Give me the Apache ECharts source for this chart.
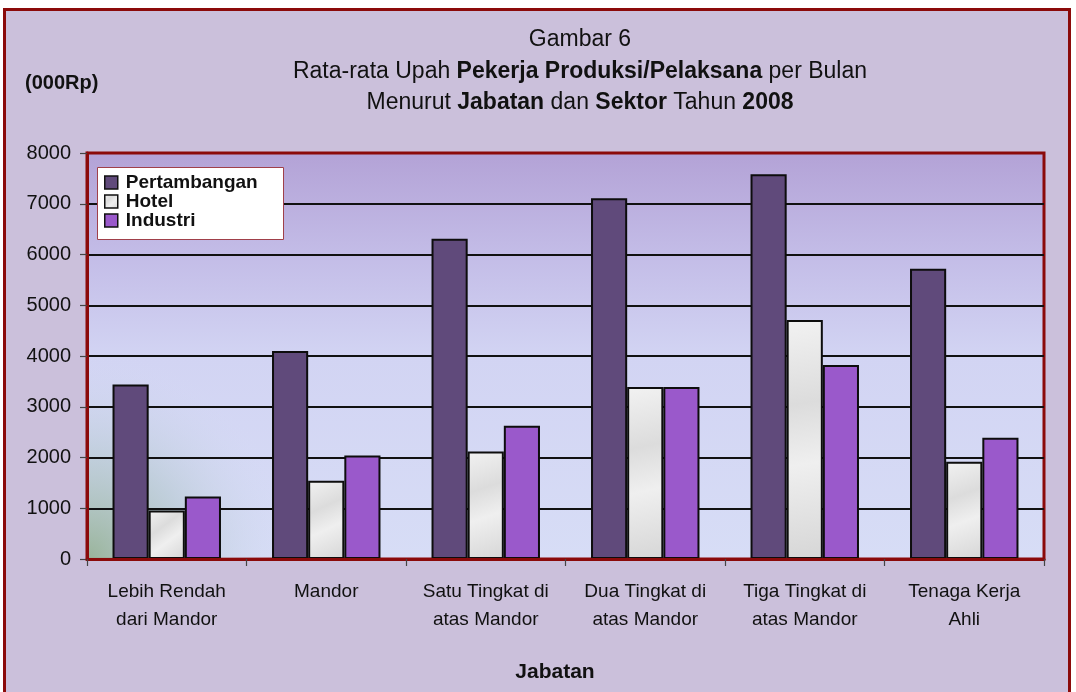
<!DOCTYPE html>
<html>
<head>
<meta charset="utf-8">
<script src="https://cdn.jsdelivr.net/npm/echarts@6/dist/echarts.min.js"></script>
<style>
  html, body { margin: 0; padding: 0; background: #ffffff; }
  #frame { position: absolute; left: 3px; top: 8px; width: 1068px; height: 700px;
           border: 3px solid #8B0A0A; background: #CBC0DB; box-sizing: border-box; }
  #chart { position: absolute; left: 0; top: 0; width: 1076px; height: 692px; }
</style>
</head>
<body>
<div id="frame"></div>
<div id="chart"></div>
<script>
const categories = ['Lebih Rendah\ndari Mandor', 'Mandor', 'Satu Tingkat di\natas Mandor', 'Dua Tingkat di\natas Mandor', 'Tiga Tingkat di\natas Mandor', 'Tenaga Kerja\nAhli'];
const seriesNames = ['Pertambangan', 'Hotel', 'Industri'];
const pertambangan = [3440, 4100, 6310, 7110, 7580, 5720];
const hotel = [955, 1540, 2120, 3390, 4710, 1915];
const industri = [1230, 2040, 2625, 3390, 3825, 2390];
const yMin = 0, yMax = 8000, yStep = 1000;
const titleLines = ['Gambar 6', 'Rata-rata Upah ', 'Pekerja Produksi/Pelaksana', ' per Bulan', 'Menurut ', 'Jabatan', ' dan ', 'Sektor', ' Tahun ', '2008'];
const yUnit = '(000Rp)';
const xName = 'Jabatan';

const FONT = '"Liberation Sans", Arial, sans-serif';
const chart = echarts.init(document.getElementById('chart'), null, { renderer: 'canvas' });

const GL = 87, GT = 153, GW = 957, GH = 406;

const titleText = titleLines[0] + '\n' +
  '{n|' + titleLines[1] + '}{b|' + titleLines[2] + '}{n|' + titleLines[3] + '}\n' +
  '{n|' + titleLines[4] + '}{b|' + titleLines[5] + '}{n|' + titleLines[6] + '}{b|' + titleLines[7] + '}{n|' + titleLines[8] + '}{b|' + titleLines[9] + '}';

const barBorder = { borderColor: '#0d0d0d', borderWidth: 2 };

chart.setOption({
  backgroundColor: 'transparent',
  animation: false,
  textStyle: { fontFamily: FONT },
  title: [
    {
      text: titleText,
      left: 575, top: 19, textAlign: 'center',
      textStyle: {
        fontFamily: FONT, fontSize: 23, fontWeight: 'normal', color: '#111', lineHeight: 31.5,
        rich: {
          n: { fontFamily: FONT, fontSize: 23, fontWeight: 'normal', color: '#111', lineHeight: 31.5 },
          b: { fontFamily: FONT, fontSize: 23, fontWeight: 'bold', color: '#111', lineHeight: 31.5 }
        }
      }
    },
    {
      text: yUnit, left: 20, top: 68,
      textStyle: { fontFamily: FONT, fontSize: 20, fontWeight: 'bold', color: '#111' }
    },
    {
      text: xName, left: 550, top: 657, textAlign: 'center',
      textStyle: { fontFamily: FONT, fontSize: 21, fontWeight: 'bold', color: '#111' }
    }
  ],
  grid: {
    left: GL, top: GT, width: GW, height: GH,
    show: true,
    borderColor: '#8B0A0A', borderWidth: 3,
    backgroundColor: {
      type: 'linear', x: 0, y: 0, x2: 0, y2: 1,
      colorStops: [
        { offset: 0, color: '#B3A2D6' },
        { offset: 0.25, color: '#C3BCE7' },
        { offset: 0.5, color: '#D2D4F3' },
        { offset: 1, color: '#D7DDF6' }
      ]
    }
  },
  graphic: [
    {
      type: 'rect', z: 1, silent: true,
      shape: { x: GL + 1, y: GT + GH * 0.4, width: GW * 0.45, height: GH * 0.6 - 1 },
      style: {
        fill: {
          type: 'radial', x: 0, y: 1, r: 0.85,
          colorStops: [
            { offset: 0, color: 'rgba(150,178,150,0.95)' },
            { offset: 0.5, color: 'rgba(180,200,205,0.6)' },
            { offset: 1, color: 'rgba(214,220,246,0)' }
          ]
        }
      }
    },
    {
      type: 'rect', z: 10, silent: true,
      shape: { x: 97.5, y: 167.5, width: 186, height: 72 },
      style: { fill: '#ffffff', stroke: '#A0404A', lineWidth: 1 }
    }
  ],
  legend: {
    z: 11,
    data: seriesNames,
    orient: 'vertical',
    left: 104, top: 173,
    padding: 0,
    itemWidth: 13, itemHeight: 13, itemGap: 0,
    icon: 'rect',
    itemStyle: { borderColor: '#111', borderWidth: 1.5 },
    textStyle: { fontFamily: FONT, fontSize: 19, fontWeight: 'bold', color: '#111', padding: [0, 0, 0, 3] }
  },
  xAxis: {
    type: 'category',
    data: categories,
    z: 3,
    axisLine: { show: true, lineStyle: { color: '#8B0A0A', width: 3 } },
    axisTick: { show: true, length: 7, lineStyle: { color: '#444', width: 1.2 } },
    axisLabel: { color: '#111', fontFamily: FONT, fontSize: 19, lineHeight: 28, margin: 19, interval: 0 },
    splitLine: { show: false }
  },
  yAxis: {
    type: 'value',
    min: yMin, max: yMax, interval: yStep,
    z: 1.5,
    axisLine: { show: true, lineStyle: { color: '#8B0A0A', width: 3 } },
    axisTick: { show: true, length: 7, lineStyle: { color: '#444', width: 1.2 } },
    axisLabel: { color: '#111', fontFamily: FONT, fontSize: 20, margin: 16, formatter: function (v) { return String(v); } },
    splitLine: { show: true, showMinLine: false, showMaxLine: false, lineStyle: { color: '#111', width: 2 } }
  },
  series: [
    {
      name: seriesNames[0], type: 'bar', data: pertambangan,
      barGap: '0%', barCategoryGap: '32%', z: 2,
      itemStyle: Object.assign({ color: '#604A7B' }, barBorder)
    },
    {
      name: seriesNames[1], type: 'bar', data: hotel,
      barGap: '0%', barCategoryGap: '32%', z: 2,
      itemStyle: Object.assign({
        color: {
          type: 'linear', x: 0, y: 0, x2: 1, y2: 1,
          colorStops: [
            { offset: 0, color: '#F2F2F2' },
            { offset: 0.35, color: '#DCDCDC' },
            { offset: 0.6, color: '#EFEFEF' },
            { offset: 1, color: '#D6D6D6' }
          ]
        }
      }, barBorder)
    },
    {
      name: seriesNames[2], type: 'bar', data: industri,
      barGap: '0%', barCategoryGap: '32%', z: 2,
      itemStyle: Object.assign({ color: '#9A59CB' }, barBorder)
    }
  ]
});
</script>
</body>
</html>
